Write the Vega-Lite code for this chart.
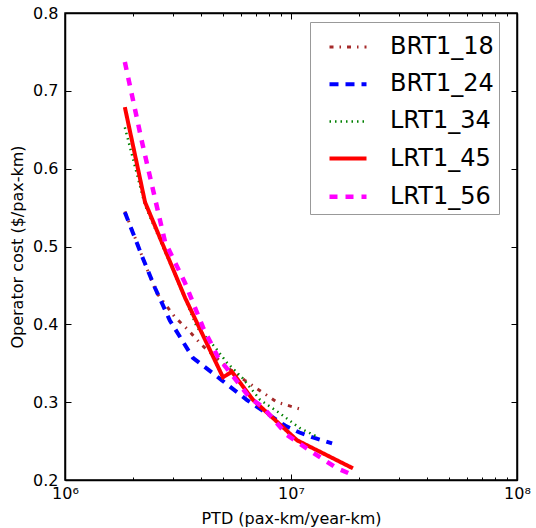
{
  "$schema": "https://vega.github.io/schema/vega-lite/v6.json",
  "width": 452,
  "height": 467,
  "autosize": {"type": "none"},
  "padding": {"left": 65, "top": 13, "right": 19, "bottom": 48},
  "config": {
    "font": "DejaVu Sans",
    "view": {"stroke": "black", "strokeWidth": 1.5},
    "axis": {"domainColor": "black", "domainWidth": 1.5, "tickColor": "black", "tickWidth": 1, "labelColor": "black", "titleColor": "black", "labelFont": "DejaVu Sans", "titleFont": "DejaVu Sans", "labelFontSize": 16, "titleFontSize": 16, "titleFontWeight": "normal", "grid": false}
  },
  "data": {"values": [
    {"series": "BRT1_18", "ptd": 1840000, "cost": 0.545},
    {"series": "BRT1_18", "ptd": 2000000, "cost": 0.518},
    {"series": "BRT1_18", "ptd": 2300000, "cost": 0.472},
    {"series": "BRT1_18", "ptd": 2550000, "cost": 0.44},
    {"series": "BRT1_18", "ptd": 3070000, "cost": 0.409},
    {"series": "BRT1_18", "ptd": 3500000, "cost": 0.393},
    {"series": "BRT1_18", "ptd": 4040000, "cost": 0.373},
    {"series": "BRT1_18", "ptd": 5260000, "cost": 0.344},
    {"series": "BRT1_18", "ptd": 6250000, "cost": 0.328},
    {"series": "BRT1_18", "ptd": 8670000, "cost": 0.3},
    {"series": "BRT1_18", "ptd": 11300000, "cost": 0.29},
    {"series": "BRT1_24", "ptd": 1840000, "cost": 0.544},
    {"series": "BRT1_24", "ptd": 2210000, "cost": 0.485},
    {"series": "BRT1_24", "ptd": 2500000, "cost": 0.447},
    {"series": "BRT1_24", "ptd": 2910000, "cost": 0.405},
    {"series": "BRT1_24", "ptd": 3680000, "cost": 0.357},
    {"series": "BRT1_24", "ptd": 4950000, "cost": 0.328},
    {"series": "BRT1_24", "ptd": 6370000, "cost": 0.303},
    {"series": "BRT1_24", "ptd": 9400000, "cost": 0.27},
    {"series": "BRT1_24", "ptd": 10900000, "cost": 0.261},
    {"series": "BRT1_24", "ptd": 12700000, "cost": 0.254},
    {"series": "BRT1_24", "ptd": 15200000, "cost": 0.247},
    {"series": "LRT1_34", "ptd": 1840000, "cost": 0.653},
    {"series": "LRT1_34", "ptd": 2260000, "cost": 0.553},
    {"series": "LRT1_34", "ptd": 3000000, "cost": 0.47},
    {"series": "LRT1_34", "ptd": 3840000, "cost": 0.396},
    {"series": "LRT1_34", "ptd": 4600000, "cost": 0.371},
    {"series": "LRT1_34", "ptd": 5200000, "cost": 0.351},
    {"series": "LRT1_34", "ptd": 6100000, "cost": 0.331},
    {"series": "LRT1_34", "ptd": 7300000, "cost": 0.303},
    {"series": "LRT1_34", "ptd": 8900000, "cost": 0.286},
    {"series": "LRT1_34", "ptd": 10900000, "cost": 0.267},
    {"series": "LRT1_34", "ptd": 13160000, "cost": 0.255},
    {"series": "LRT1_45", "ptd": 1840000, "cost": 0.679},
    {"series": "LRT1_45", "ptd": 2260000, "cost": 0.557},
    {"series": "LRT1_45", "ptd": 3400000, "cost": 0.434},
    {"series": "LRT1_45", "ptd": 5000000, "cost": 0.332},
    {"series": "LRT1_45", "ptd": 5480000, "cost": 0.339},
    {"series": "LRT1_45", "ptd": 6790000, "cost": 0.303},
    {"series": "LRT1_45", "ptd": 9200000, "cost": 0.268},
    {"series": "LRT1_45", "ptd": 10640000, "cost": 0.251},
    {"series": "LRT1_45", "ptd": 18800000, "cost": 0.215},
    {"series": "LRT1_56", "ptd": 1840000, "cost": 0.737},
    {"series": "LRT1_56", "ptd": 2200000, "cost": 0.632},
    {"series": "LRT1_56", "ptd": 2770000, "cost": 0.506},
    {"series": "LRT1_56", "ptd": 3400000, "cost": 0.453},
    {"series": "LRT1_56", "ptd": 4080000, "cost": 0.396},
    {"series": "LRT1_56", "ptd": 4750000, "cost": 0.358},
    {"series": "LRT1_56", "ptd": 6600000, "cost": 0.305},
    {"series": "LRT1_56", "ptd": 7500000, "cost": 0.294},
    {"series": "LRT1_56", "ptd": 9600000, "cost": 0.258},
    {"series": "LRT1_56", "ptd": 12100000, "cost": 0.238},
    {"series": "LRT1_56", "ptd": 13800000, "cost": 0.227},
    {"series": "LRT1_56", "ptd": 16000000, "cost": 0.215},
    {"series": "LRT1_56", "ptd": 18600000, "cost": 0.207}
  ]},
  "resolve": {"axis": {"x": "independent", "y": "independent"}},
  "layer": [
    {
      "mark": {"type": "line", "clip": true},
      "encoding": {
        "x": {"field": "ptd", "type": "quantitative",
          "scale": {"type": "log", "domain": [1000000, 100000000], "nice": false},
          "axis": {"orient": "bottom", "title": "PTD (pax-km/year-km)", "values": [1000000, 10000000, 100000000], "tickSize": -6, "labelPadding": 11, "titlePadding": 9,
            "labelExpr": "datum.value < 5000000 ? '10⁶' : datum.value < 50000000 ? '10⁷' : '10⁸'", "labelFlush": false, "labelOverlap": false}},
        "y": {"field": "cost", "type": "quantitative",
          "scale": {"domain": [0.2, 0.8], "nice": false, "zero": false},
          "axis": {"orient": "left", "title": "Operator cost ($/pax-km)", "values": [0.2, 0.3, 0.4, 0.5, 0.6, 0.7, 0.8], "format": ".1f", "tickSize": -6, "labelPadding": 13, "titlePadding": 7, "labelFlush": false, "labelOverlap": false}},
        "color": {"field": "series", "type": "nominal",
          "scale": {"domain": ["BRT1_18", "BRT1_24", "LRT1_34", "LRT1_45", "LRT1_56"], "range": ["#a52a2a", "#0000ff", "#008000", "#ff0000", "#ff00ff"]},
          "legend": {"orient": "none", "legendX": 245, "legendY": 9, "title": null, "labelFontSize": 24, "labelFont": "DejaVu Sans", "labelColor": "black", "symbolType": "stroke", "symbolSize": 1369, "strokeColor": "#999999", "fillColor": "white", "padding": 5, "symbolOffset": 12, "labelOffset": 21, "rowPadding": 4.7}},
        "strokeDash": {"field": "series", "type": "nominal",
          "scale": {"domain": ["BRT1_18", "BRT1_24", "LRT1_34", "LRT1_45", "LRT1_56"], "range": [[4, 6, 1.5, 6], [9, 7], [1.5, 4], [1, 0], [8, 8]]}},
        "strokeWidth": {"field": "series", "type": "nominal",
          "scale": {"type": "ordinal", "domain": ["BRT1_18", "BRT1_24", "LRT1_34", "LRT1_45", "LRT1_56"], "range": [3, 4, 2.5, 4, 4.5]}}
      }
    },
    {
      "mark": {"type": "point", "opacity": 0},
      "encoding": {
        "x": {"field": "ptd", "type": "quantitative", "axis": {"orient": "top", "title": null, "labels": false, "values": [1000000, 10000000, 100000000], "tickSize": -6}},
        "y": {"field": "cost", "type": "quantitative", "axis": {"orient": "right", "title": null, "labels": false, "values": [0.2, 0.3, 0.4, 0.5, 0.6, 0.7, 0.8], "tickSize": -6}}
      }
    },
    {
      "mark": {"type": "point", "opacity": 0},
      "encoding": {
        "x": {"field": "ptd", "type": "quantitative", "axis": {"orient": "bottom", "title": null, "labels": false, "domain": false, "values": [2000000, 3000000, 4000000, 5000000, 6000000, 7000000, 8000000, 9000000, 20000000, 30000000, 40000000, 50000000, 60000000, 70000000, 80000000, 90000000], "tickSize": -3}},
        "y": {"field": "cost", "type": "quantitative", "axis": null}
      }
    },
    {
      "mark": {"type": "point", "opacity": 0},
      "encoding": {
        "x": {"field": "ptd", "type": "quantitative", "axis": {"orient": "top", "title": null, "labels": false, "domain": false, "values": [2000000, 3000000, 4000000, 5000000, 6000000, 7000000, 8000000, 9000000, 20000000, 30000000, 40000000, 50000000, 60000000, 70000000, 80000000, 90000000], "tickSize": -3}},
        "y": {"field": "cost", "type": "quantitative", "axis": null}
      }
    }
  ]
}
